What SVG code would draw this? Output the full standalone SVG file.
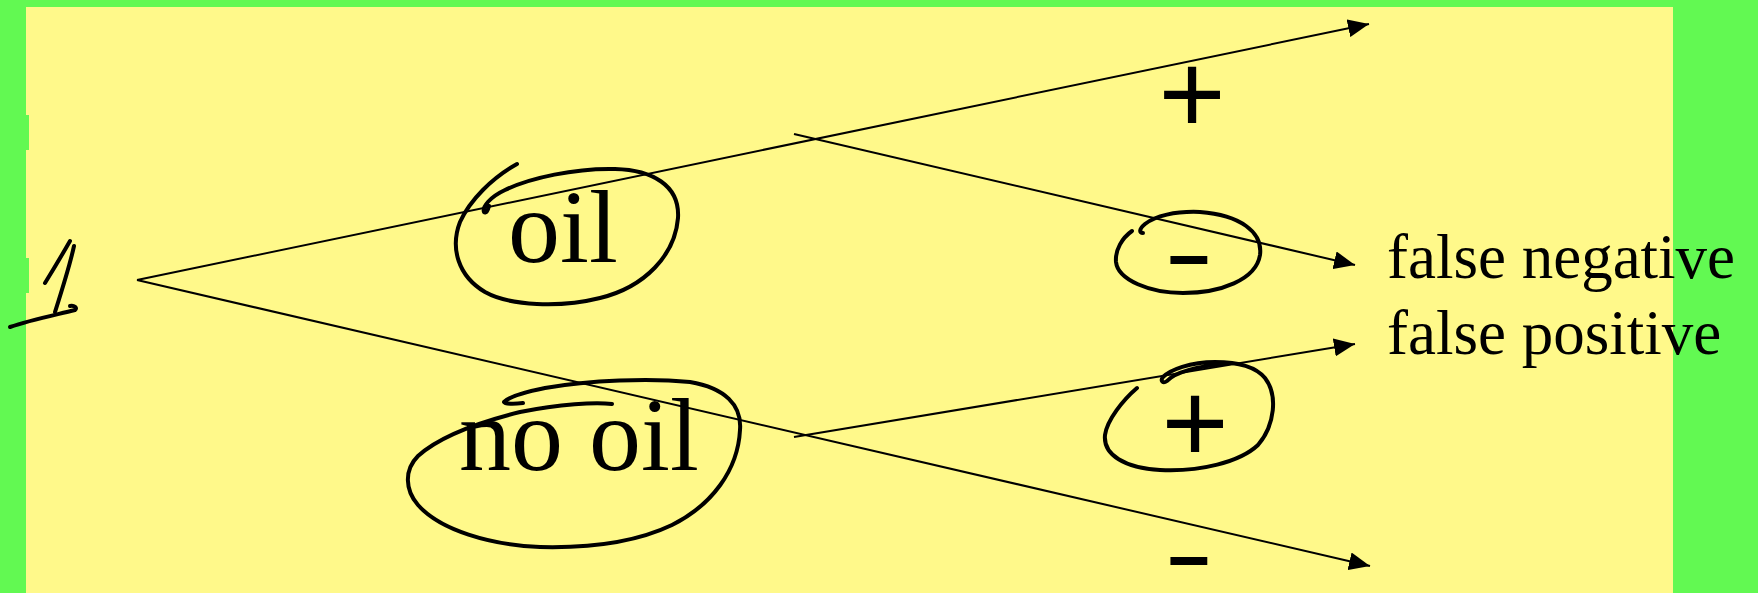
<svg xmlns="http://www.w3.org/2000/svg" width="1758" height="593" viewBox="0 0 1758 593">
<style>
.conn{stroke:#000;stroke-width:2;fill:none;marker-end:url(#arr)}
.ink{stroke:#000;stroke-width:4;fill:none;stroke-linecap:round;stroke-linejoin:round}
.big{font-family:"Liberation Serif","Times New Roman",serif;font-size:104px;fill:#000}
.lbl{font-family:"Liberation Serif","Times New Roman",serif;font-size:63px;fill:#000}
.sign{font-family:"Liberation Sans",Arial,sans-serif;fill:#000;text-anchor:middle}
.minus{font-family:"Liberation Sans",Arial,sans-serif;font-weight:bold;font-size:66px;fill:#000;text-anchor:middle}
</style>
<defs>
<marker id="arr" viewBox="0 0 21 18" refX="21" refY="9" markerWidth="21" markerHeight="18" markerUnits="userSpaceOnUse" orient="auto">
<path d="M0,0 L21,9 L0,18 Z" fill="#000"/>
</marker>
</defs>
<rect x="0" y="0" width="1758" height="593" fill="#62f952"/>
<rect x="26" y="7" width="1647" height="586" fill="#fff98a"/>
<rect x="26" y="115" width="3" height="35" fill="#62f952"/>
<rect x="26" y="258" width="3" height="35" fill="#62f952"/>

<g id="connectors">
<path class="conn" d="M137,280 L1369,24"/>
<path class="conn" d="M137,280 L1370,566"/>
<path class="conn" d="M794,134 L1355,265"/>
<path class="conn" d="M794,437 L1355,344"/>
</g>

<g id="node-root">
<path class="ink" d="M45,283 C53,270 62,255 70,241"/>
<path class="ink" d="M74,246 C70,265 62,290 55,312"/>
<path class="ink" d="M10,327 C30,320 55,315 75,310 C78,308 74,305 70,306"/>
</g>

<g id="node-oil">
<text class="big" x="508" y="262">oil</text>
<path class="ink" d="M517,164 C492,178 470,200 460,222 C450,248 458,276 485,292 C510,306 560,308 600,298 C645,287 675,255 678,218 C680,185 652,170 615,169 C575,168 530,178 505,190 C490,197 482,207 484,212 C486,214 488,210 489,206"/>
</g>

<g id="node-nooil">
<text class="big" x="459" y="470">no oil</text>
<path class="ink" d="M523,403 C515,404 505,404 504,402 C510,396 525,392 545,388 C590,380 650,378 690,382 C725,388 742,405 740,430 C738,470 712,505 672,525 C630,545 580,548 540,547 C490,545 440,530 418,505 C405,490 404,470 418,456 C440,436 480,422 520,412 C560,404 595,402 612,404"/>
</g>

<g id="node-plus1">
<text class="sign" x="1192" y="133" font-size="115">+</text>
</g>

<g id="node-minus1">
<text class="minus" transform="translate(1189,277) scale(2.2,1)" x="0" y="0">-</text>
<path class="ink" d="M1132,231 C1122,238 1115,250 1116,262 C1118,280 1150,293 1183,293 C1220,293 1256,280 1260,255 C1263,232 1240,215 1200,212 C1175,211 1155,216 1145,224 C1139,229 1139,233 1143,233"/>
</g>

<g id="node-plus2">
<text class="sign" x="1195" y="462" font-size="115">+</text>
<path class="ink" d="M1137,388 C1123,400 1107,420 1105,435 C1103,455 1125,468 1160,470 C1200,472 1240,462 1258,445 C1275,425 1278,395 1265,378 C1255,366 1235,362 1215,362 C1190,362 1170,370 1163,377 C1160,381 1163,384 1167,381 C1175,372 1200,366 1230,363"/>
</g>

<g id="node-minus2">
<text class="minus" transform="translate(1189,578) scale(2.2,1)" x="0" y="0">-</text>
</g>

<g id="node-fn">
<text class="lbl" x="1387" y="278">false negative</text>
</g>
<g id="node-fp">
<text class="lbl" x="1387" y="354">false positive</text>
</g>
</svg>
